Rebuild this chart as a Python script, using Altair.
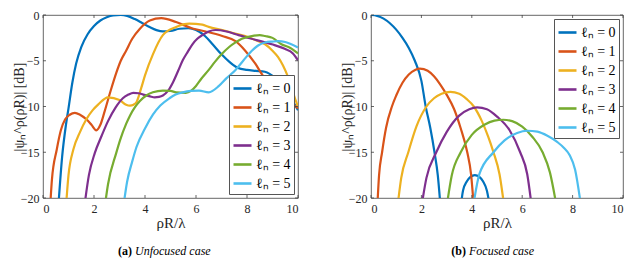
import altair as alt
import pandas as pd

labels = ["ℓₙ = 0", "ℓₙ = 1", "ℓₙ = 2", "ℓₙ = 3", "ℓₙ = 4", "ℓₙ = 5"]
colors = ["#0072BD", "#D95319", "#EDB120", "#7E2F8E", "#77AC30", "#4DBEEE"]
xticks = [0, 2, 4, 6, 8, 10]
yticks = [0, -5, -10, -15, -20]

# ---------- (a) unfocused case ----------
u0_x = [0.6, 0.75, 0.9, 1.0, 1.15, 1.3, 1.5, 1.75, 2.0, 2.25, 2.5, 2.75, 3.05, 3.3, 3.6, 3.9, 4.2, 4.45, 4.7, 5.0, 5.35, 5.7, 6.0, 6.35, 6.65, 7.0, 7.3, 7.65, 8.0, 8.35, 8.7, 9.1, 9.35, 9.7, 10]
u0_y = [-21, -15.5, -12, -10.2, -7.4, -5.3, -3.5, -2.1, -1.2, -0.6, -0.25, -0.05, 0, -0.1, -0.45, -0.9, -1.35, -1.65, -1.8, -1.75, -1.5, -1.45, -1.65, -2.3, -3.2, -4.3, -5.1, -5.8, -6.0, -6.1, -6.2, -6.9, -7.7, -9.0, -10.4]
u1_x = [0.28, 0.35, 0.54, 0.7, 0.87, 1.05, 1.25, 1.45, 1.7, 1.9, 2.09, 2.25, 2.42, 2.65, 2.87, 3.05, 3.26, 3.5, 3.8, 4.19, 4.64, 5.22, 5.86, 6.38, 7.03, 7.55, 7.93, 8.32, 8.64, 9.0, 9.4, 9.7, 10]
u1_y = [-21, -18, -14.7, -12.6, -11.4, -10.9, -10.7, -10.9, -11.4, -12.0, -12.6, -12.0, -10.5, -8.3, -6.35, -5.0, -3.9, -2.6, -1.5, -0.6, -0.35, -0.77, -1.47, -1.8, -2.3, -2.86, -3.9, -5.3, -6.7, -7.9, -8.9, -9.5, -10.2]
u2_x = [0.9, 1.0, 1.19, 1.45, 1.7, 1.95, 2.16, 2.55, 3.0, 3.26, 3.41, 3.55, 3.67, 3.85, 4.0, 4.31, 4.7, 5.22, 5.74, 6.25, 6.5, 7.03, 7.5, 7.93, 8.3, 8.71, 9.0, 9.22, 9.6, 9.93, 10]
u2_y = [-21, -17.5, -14.7, -12.8, -11.4, -10.4, -9.8, -9.0, -9.3, -9.8, -9.9, -9.8, -9.5, -8.0, -6.6, -4.3, -2.2, -1.3, -0.94, -1.05, -1.3, -1.64, -2.0, -2.3, -2.7, -3.2, -3.9, -4.6, -6.7, -9.5, -10.0]
u3_x = [1.62, 1.8, 2.03, 2.3, 2.55, 2.85, 3.13, 3.35, 3.54, 3.75, 3.93, 4.2, 4.38, 4.55, 4.7, 4.9, 5.09, 5.3, 5.48, 5.68, 5.86, 6.05, 6.25, 6.5, 6.77, 7.2, 7.67, 8.32, 8.97, 9.48, 9.8, 10]
u3_y = [-21, -17.5, -15.1, -13.2, -11.6, -10.1, -9.1, -8.7, -8.5, -8.55, -8.7, -8.9, -9.0, -8.95, -8.8, -8.3, -7.4, -6.1, -4.95, -4.0, -3.2, -2.6, -2.2, -1.8, -1.64, -1.8, -2.2, -2.7, -3.2, -3.7, -4.2, -4.95]
u4_x = [2.42, 2.55, 2.87, 3.02, 3.26, 3.41, 3.6, 3.8, 4.05, 4.31, 4.7, 5.0, 5.22, 5.6, 5.8, 6.0, 6.2, 6.5, 6.75, 7.0, 7.3, 7.55, 7.8, 8.19, 8.5, 8.71, 9.0, 9.35, 9.7, 10]
u4_y = [-21, -18.5, -15.1, -13.7, -11.9, -11.0, -10.1, -9.4, -8.8, -8.45, -8.27, -8.3, -8.45, -8.5, -8.3, -7.75, -7.0, -6.0, -5.1, -4.3, -3.5, -3.0, -2.6, -2.3, -2.2, -2.3, -2.5, -3.2, -3.6, -4.2]
u5_x = [3.15, 3.3, 3.5, 3.67, 4.0, 4.31, 4.6, 4.96, 5.2, 5.48, 5.8, 6.12, 6.5, 6.9, 7.2, 7.55, 7.85, 8.19, 8.45, 8.71, 9.0, 9.22, 9.5, 9.74, 10]
u5_y = [-21, -18.2, -16.0, -14.4, -12.4, -10.9, -9.9, -9.1, -8.7, -8.45, -8.3, -8.27, -8.45, -7.75, -6.9, -6.0, -5.0, -3.9, -3.3, -3.0, -2.9, -2.86, -2.95, -3.2, -3.56]

# ---------- (b) focused case ----------
f0a_x = [0, 0.25, 0.5, 0.75, 1.0, 1.25, 1.5, 1.74, 2.0, 2.17, 2.35, 2.52, 2.65, 2.76]
f0a_y = [0, -0.1, -0.4, -0.9, -1.6, -2.5, -3.6, -5.0, -7.2, -10.0, -12.3, -15.0, -17.5, -21]
f0b_x = [3.56, 3.65, 3.8, 3.95, 4.12, 4.3, 4.45, 4.6, 4.72]
f0b_y = [-21, -19.2, -18.2, -17.7, -17.5, -17.7, -18.2, -19.2, -21]
f1_x = [0.25, 0.32, 0.44, 0.6, 0.83, 1.0, 1.25, 1.5, 1.75, 1.94, 2.25, 2.5, 2.75, 3.0, 3.3, 3.55, 3.82, 3.97, 4.08]
f1_y = [-21, -17.5, -15, -12.3, -10, -8.8, -7.4, -6.5, -6.0, -5.85, -6.1, -6.7, -7.6, -8.7, -10.3, -12.3, -15, -17.4, -21]
f2_x = [1.05, 1.2, 1.48, 1.8, 2.2, 2.5, 2.8, 3.15, 3.5, 3.8, 4.08, 4.4, 4.65, 4.86, 5.1, 5.29]
f2_y = [-21, -17.8, -15, -12.2, -10, -9.1, -8.6, -8.4, -8.6, -9.2, -10, -11.6, -13.3, -15, -17.4, -21]
f3_x = [2.0, 2.2, 2.59, 3.0, 3.5, 3.9, 4.21, 4.6, 5.0, 5.5, 5.92, 6.2, 6.38]
f3_y = [-21, -17.8, -15, -12.8, -11.0, -10.3, -10.1, -10.3, -11.1, -12.6, -15, -17.4, -21]
f4_x = [3.0, 3.2, 3.56, 4.0, 4.5, 4.9, 5.25, 5.6, 6.0, 6.4, 6.81, 7.1, 7.37]
f4_y = [-21, -17.6, -15, -13.1, -12.0, -11.55, -11.45, -11.6, -12.2, -13.3, -15, -17.2, -21]
f5_x = [4.05, 4.3, 4.86, 5.3, 5.8, 6.2, 6.6, 7.0, 7.4, 7.65, 7.88, 8.1, 8.34]
f5_y = [-21, -17.4, -15, -13.7, -12.9, -12.65, -12.75, -13.2, -13.9, -14.5, -15.3, -16.9, -21]

unfocused = [(0, "a", u0_x, u0_y), (1, "a", u1_x, u1_y), (2, "a", u2_x, u2_y),
             (3, "a", u3_x, u3_y), (4, "a", u4_x, u4_y), (5, "a", u5_x, u5_y)]
focused = [(0, "a", f0a_x, f0a_y), (0, "b", f0b_x, f0b_y), (1, "a", f1_x, f1_y),
           (2, "a", f2_x, f2_y), (3, "a", f3_x, f3_y), (4, "a", f4_x, f4_y),
           (5, "a", f5_x, f5_y)]


def build(curves):
    rows = []
    for idx, seg, xs, ys in curves:
        for k, (xv, yv) in enumerate(zip(xs, ys)):
            rows.append({"series": labels[idx], "seg": f"{idx}{seg}", "o": k, "x": xv, "y": yv})
    return pd.DataFrame(rows)


SERIF = "Liberation Serif"
H = 183
AX = "#404040"
CAP_Y = 236


def panel(df, W, legend_orient, tag, caption, tag_x, cap_x):
    x_enc = alt.X("x:Q", scale=alt.Scale(domain=[0, 10], nice=False, zero=False),
                  axis=alt.Axis(values=xticks, title="ρR/λ", format="d",
                                labelPadding=5, titlePadding=1, titleFontSize=15))
    y_enc = alt.Y("y:Q", scale=alt.Scale(domain=[-20, 0], nice=False, zero=False),
                  axis=alt.Axis(values=yticks, title="|ψₙ^ρ(ρR)| [dB]", format="d",
                                labelPadding=4, titleFontSize=14, titleX=-17))
    lines = alt.Chart(df).mark_line(clip=True, strokeWidth=2.2, interpolate="monotone").encode(
        x=x_enc, y=y_enc,
        color=alt.Color("series:N", scale=alt.Scale(domain=labels, range=colors),
                        legend=alt.Legend(title=None, orient=legend_orient, offset=4,
                                          fillColor="white", strokeColor="#555",
                                          padding=3, symbolType="M-1,0L1,0",
                                          symbolStrokeWidth=2.6, symbolSize=324,
                                          labelFont=SERIF, labelFontSize=14,
                                          labelColor="black", rowPadding=1,
                                          labelOffset=3)),
        detail="seg:N", order="o:Q")
    xt = pd.DataFrame({"x": xticks})
    yt = pd.DataFrame({"y": yticks})
    bottom = alt.Chart(xt).mark_rule(color=AX, strokeWidth=0.8).encode(
        x=x_enc, y=alt.value(H), y2=alt.value(H - 3))
    top = alt.Chart(xt).mark_rule(color=AX, strokeWidth=0.8).encode(
        x=x_enc, y=alt.value(0), y2=alt.value(3))
    left = alt.Chart(yt).mark_rule(color=AX, strokeWidth=0.8).encode(
        y=y_enc, x=alt.value(0), x2=alt.value(3))
    right = alt.Chart(yt).mark_rule(color=AX, strokeWidth=0.8).encode(
        y=y_enc, x=alt.value(W - 3), x2=alt.value(W))
    t1 = alt.Chart(pd.DataFrame({"t": [tag]})).mark_text(
        font=SERIF, fontSize=12, fontWeight="bold", align="right", baseline="middle",
        color="black").encode(text="t:N", x=alt.value(tag_x), y=alt.value(CAP_Y))
    t2 = alt.Chart(pd.DataFrame({"t": [caption]})).mark_text(
        font=SERIF, fontSize=12, fontStyle="italic", align="left", baseline="middle",
        color="black").encode(text="t:N", x=alt.value(cap_x), y=alt.value(CAP_Y))
    return alt.layer(lines, bottom, top, left, right, t1, t2).properties(width=W, height=H)


pa = panel(build(unfocused), 255, "bottom-right", "(a)", "Unfocused case", 89, 92)
pb = panel(build(focused), 252, "top-right", "(b)", "Focused case", 95, 98)

chart = alt.hconcat(pa, pb, spacing=40).properties(
    padding={"left": 3, "top": 0, "right": 0, "bottom": 0}
).configure_view(stroke=AX, strokeWidth=0.8).configure_axis(
    domain=False, ticks=False, grid=False,
    labelFont=SERIF, labelFontSize=12, labelColor="#262626",
    titleFont=SERIF, titleFontWeight="normal", titleColor="#262626")

chart.save("out.html", embed_options={"renderer": "svg", "actions": False})
